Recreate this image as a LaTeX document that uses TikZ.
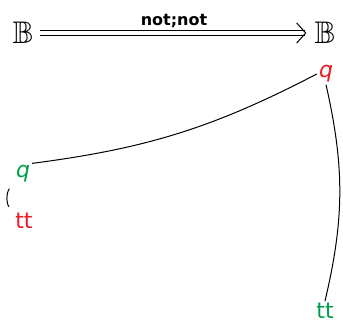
\documentclass[tikz,border=0pt]{standalone}
\usepackage{amssymb}
\usepackage{fontspec}
\setmainfont{DejaVu Sans}
\usetikzlibrary{arrows.meta}
\definecolor{stred}{RGB}{235,28,36}
\definecolor{stgreen}{RGB}{0,158,72}

\begin{document}
\begin{tikzpicture}[x=1pt,y=-1pt,
 every node/.style={inner sep=2pt},
 obj/.style={font=\fontsize{25}{30}\selectfont},
 st/.style={font=\fontsize{22}{26}\selectfont},
 lbl/.style={font=\fontsize{16}{19}\selectfont\bfseries}]
\useasboundingbox (0,0) rectangle (343,324);
\node[obj] (src) at (23,33) {\scalebox{1.25}{$\mathbb B$}};
\node[obj] (tgt) at (325,33) {\scalebox{1.25}{$\mathbb B$}};
\node[st,text=stred] (qr) at (326,74) {\itshape q};
\node[st,text=stgreen] (qg) at (23,174) {\itshape q};
\node[st,text=stred] (ttr) at (24,221) {tt};
\node[st,text=stgreen] (ttg) at (325,311) {tt};
\draw[double,double distance=4pt,line width=1pt,shorten <=4pt,shorten >=6pt,-{Straight Barb[length=9pt,width=20pt,line width=1pt]}] (src)--node[lbl,above=3pt]{not;not}(tgt);
\draw[line width=1pt] (qr.west) to[bend left=10] (qg.north east);
\draw[line width=1pt] (qr.south) to[bend left=13] (ttg.north);
\draw[line width=1pt,shorten <=6pt,shorten >=6pt] (qg.south west) to[bend right=45] (ttr.north west);
\end{tikzpicture}
\end{document}
